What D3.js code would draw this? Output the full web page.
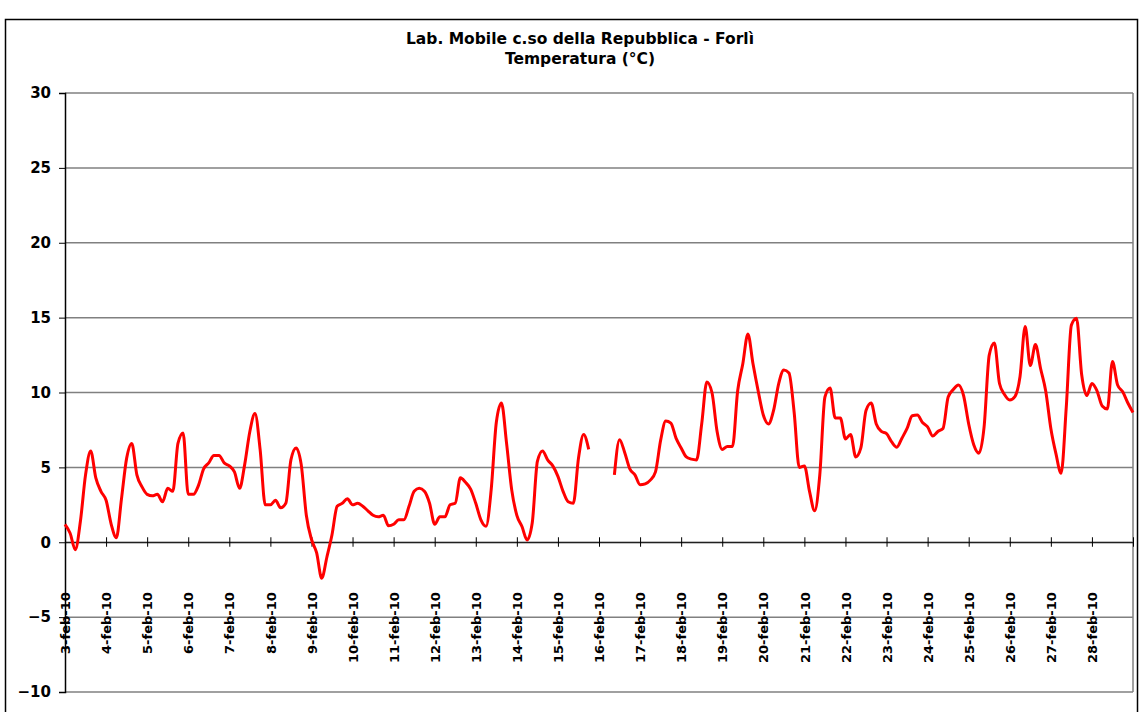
<!DOCTYPE html>
<html><head><meta charset="utf-8">
<script src="https://cdn.jsdelivr.net/npm/d3@7"></script>
<style>body{margin:0;background:#fff} text{font-family:"DejaVu Sans",Verdana,sans-serif;font-weight:bold;fill:#000}</style>
</head><body>
<svg id="c" width="1140" height="712"></svg>
<script>
const titleLines = ["Lab. Mobile c.so della Repubblica - Forlì", "Temperatura (°C)"];
const dayLabels = ["3-feb-10","4-feb-10","5-feb-10","6-feb-10","7-feb-10","8-feb-10","9-feb-10",
  "10-feb-10","11-feb-10","12-feb-10","13-feb-10","14-feb-10","15-feb-10","16-feb-10","17-feb-10",
  "18-feb-10","19-feb-10","20-feb-10","21-feb-10","22-feb-10","23-feb-10","24-feb-10","25-feb-10",
  "26-feb-10","27-feb-10","28-feb-10"];
const yTicks = [-10,-5,0,5,10,15,20,25,30];
const hoursPerDay = 24;
const stepHours = 3;
// hourly temperature sampled every 3 hours, starting 3-feb-10 00:00 (null = missing)
const temperature = [
  1.2, 0.6, -0.5, 1.4, 4.5, 6.1, 4.3, 3.4,        // 3-feb
  2.8, 1.2, 0.3, 2.9, 5.6, 6.6, 4.5, 3.7,         // 4-feb
  3.2, 3.1, 3.2, 2.7, 3.6, 3.4, 6.6, 7.3,         // 5-feb
  3.2, 3.2, 3.8, 4.9, 5.3, 5.8, 5.8, 5.3,         // 6-feb
  5.1, 4.7, 3.6, 5.2, 7.4, 8.6, 6.2, 2.5,         // 7-feb
  2.5, 2.8, 2.3, 2.6, 5.5, 6.3, 5.2, 1.8,         // 8-feb
  0.2, -0.7, -2.4, -1.0, 0.5, 2.4, 2.6, 2.9,      // 9-feb
  2.5, 2.6, 2.4, 2.1, 1.8, 1.7, 1.8, 1.1,         // 10-feb
  1.2, 1.5, 1.5, 2.4, 3.4, 3.6, 3.4, 2.6,         // 11-feb
  1.2, 1.7, 1.7, 2.5, 2.6, 4.3, 4.0, 3.55,        // 12-feb
  2.6, 1.5, 1.07, 3.5, 8.0, 9.3, 6.6, 3.5,        // 13-feb
  1.8, 1.05, 0.15, 1.3, 5.4, 6.1, 5.5, 5.1,       // 14-feb
  4.4, 3.4, 2.7, 2.6, 5.6, 7.2, 6.2, null,        // 15-feb
  null, null, null, 4.5, 6.85, 6.0, 4.9, 4.5,     // 16-feb
  3.84, 3.9, 4.15, 4.7, 6.8, 8.1, 7.96, 6.95,     // 17-feb
  6.3, 5.7, 5.55, 5.5, 7.9, 10.7, 10.0, 7.4,      // 18-feb
  6.2, 6.4, 6.4, 10.1, 11.9, 13.9, 11.9, 10.1,    // 19-feb
  8.5, 7.9, 8.8, 10.6, 11.5, 11.3, 8.7, 5.0,      // 20-feb
  5.1, 3.4, 2.1, 4.5, 9.7, 10.3, 8.3, 8.3,        // 21-feb
  6.9, 7.2, 5.7, 6.3, 8.8, 9.3, 7.9, 7.4,         // 22-feb
  7.25, 6.7, 6.35, 6.95, 7.6, 8.45, 8.5, 8.0,     // 23-feb
  7.7, 7.1, 7.4, 7.6, 9.7, 10.2, 10.5, 9.8,       // 24-feb
  7.9, 6.5, 5.95, 7.7, 12.5, 13.3, 10.6, 9.85,    // 25-feb
  9.5, 9.73, 11.07, 14.4, 11.8, 13.2, 11.6, 10.1, // 26-feb
  7.6, 5.9, 4.6, 9.0, 14.5, 14.96, 11.2, 9.8,     // 27-feb
  10.6, 10.1, 9.1, 8.9, 12.07, 10.5, 10.05, 9.3,  // 28-feb
  8.67
];

const svg = d3.select("#c");
svg.append("rect").attr("width",1140).attr("height",712).attr("fill","#fff");
// chart area border
svg.append("rect").attr("x",5.5).attr("y",19.5).attr("width",1132).attr("height",720)
  .attr("fill","none").attr("stroke","#000").attr("stroke-width",1.5);

const L = 65, R = 1133, T = 93, B = 692;
const totalHours = dayLabels.length * hoursPerDay;
const x = d3.scaleLinear().domain([0, totalHours]).range([L, R]);
const y = d3.scaleLinear().domain([-10, 30]).range([B, T]);

// title
svg.append("text").attr("x",580).attr("y",44).attr("text-anchor","middle").attr("font-size",15.5).text(titleLines[0]);
svg.append("text").attr("x",580).attr("y",64).attr("text-anchor","middle").attr("font-size",15.5).text(titleLines[1]);

// gridlines
svg.append("g").selectAll("line").data(yTicks).join("line")
  .attr("x1",L).attr("x2",R).attr("y1",d=>y(d)).attr("y2",d=>y(d))
  .attr("stroke","#808080").attr("stroke-width",1.5);
// right border of plot
svg.append("line").attr("x1",R).attr("x2",R).attr("y1",T).attr("y2",B).attr("stroke","#808080").attr("stroke-width",1.5);

// y axis
const yAxis = svg.append("g").attr("transform",`translate(${L},0)`)
  .call(d3.axisLeft(y).tickValues(yTicks).tickSize(6).tickPadding(8).tickFormat(d3.format("d")));
yAxis.select(".domain").attr("stroke","#000").attr("stroke-width",1.5);
yAxis.selectAll(".tick line").attr("stroke","#000").attr("stroke-width",1);
yAxis.selectAll(".tick text").attr("font-size",15).attr("font-family","DejaVu Sans").attr("font-weight","bold").attr("fill","#000");

// x axis at y=0
const xTickVals = d3.range(0, totalHours + 1, hoursPerDay);
const xAxis = svg.append("g").attr("transform",`translate(0,${y(0)})`)
  .call(d3.axisBottom(x).tickValues(xTickVals).tickSizeInner(4).tickSizeOuter(0)
    .tickFormat((d,i)=> i < dayLabels.length ? dayLabels[i] : ""));
xAxis.select(".domain").attr("stroke","#000").attr("stroke-width",1);
xAxis.selectAll(".tick line").attr("y1",-5).attr("y2",4.5).attr("stroke","#000").attr("stroke-width",1);
xAxis.selectAll(".tick text")
  .attr("font-size",13).attr("font-family","DejaVu Sans").attr("font-weight","bold").attr("fill","#000")
  .attr("text-anchor","end").attr("y",0).attr("dy","0.36em")
  .attr("transform","translate(0,50) rotate(-90)");

// line
const pts = temperature.map((v,i)=>({h:i*stepHours, v}));
const line = d3.line().defined(d=>d.v!==null).x(d=>x(d.h)).y(d=>y(d.v)).curve(d3.curveMonotoneX);
svg.append("path").datum(pts).attr("d",line)
  .attr("fill","none").attr("stroke","#ff0000").attr("stroke-width",3).attr("stroke-linejoin","round");
</script>
</body></html>
